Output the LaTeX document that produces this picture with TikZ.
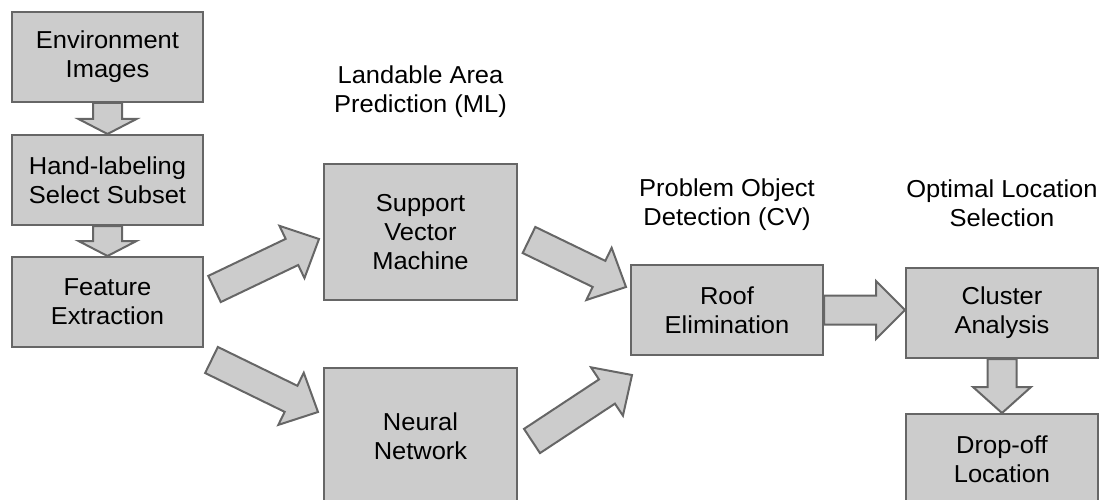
\documentclass[tikz,border=0pt]{standalone}
\usepackage{fontspec}
\setmainfont[FakeStretch=1.04]{Liberation Sans}
\usepackage{tikz}
\usepackage{xcolor}
\usetikzlibrary{calc}

\definecolor{boxgray}{HTML}{CCCCCC}
\definecolor{linegray}{HTML}{666666}
\newcommand{\labelfont}{\fontsize{24.5}{28.7}\selectfont}

\tikzset{
    stagebox/.style={draw=linegray, fill=boxgray, line width=2pt, align=center,
        font=\labelfont, inner sep=0pt},
    heading/.style={align=center, font=\labelfont, inner sep=0pt},
    fatarrow/.style={draw=linegray, fill=boxgray, line width=2pt, line join=miter}
}

% block arrow from #2 to #3, #1 = length of the head
\newcommand{\fatarrow}[3][30]{%
    \draw[fatarrow] ($(#2)!14.5pt!90:(#3)$)
        -- ($($(#3)!#1pt!(#2)$)!14.5pt!90:(#3)$)
        -- ($($(#3)!#1pt!(#2)$)!29pt!90:(#3)$)
        -- (#3)
        -- ($($(#3)!#1pt!(#2)$)!29pt!-90:(#3)$)
        -- ($($(#3)!#1pt!(#2)$)!14.5pt!-90:(#3)$)
        -- ($(#2)!14.5pt!-90:(#3)$) -- cycle;}

\begin{document}
\begin{tikzpicture}[x=1pt, y=-1pt]
\useasboundingbox (0,0) rectangle (1099,500);
\clip (0,0) rectangle (1099,500);

% Preprocessing column
\node[stagebox, minimum width=191, minimum height=90] (env) at (107.5,57) {Environment\\Images};
\node[stagebox, minimum width=191, minimum height=90] (hand) at (107.5,180) {Hand-labeling\\Select Subset};
\node[stagebox, minimum width=191, minimum height=90] (feat) at (107.5,302) {Feature\\Extraction};

% Classifiers
\node[heading] (mlhead) at (420.5,92) {Landable Area\\Prediction (ML)};
\node[stagebox, minimum width=193, minimum height=136] (svm) at (420.5,232) {Support\\Vector\\Machine};
\node[stagebox, minimum width=193, minimum height=136] (nn) at (420.5,436) {Neural\\Network};

% Object detection
\node[heading] (cvhead) at (727,205) {Problem Object\\Detection (CV)};
\node[stagebox, minimum width=192, minimum height=90] (roof) at (727,310) {Roof\\Elimination};

% Location selection
\node[heading] (selhead) at (1002,203) {Optimal Location\\Selection};
\node[stagebox, minimum width=192, minimum height=90] (clus) at (1002,313) {Cluster\\Analysis};
\node[stagebox, minimum width=192, minimum height=90] (drop) at (1002,459) {Drop-off\\Location};

% Arrow end points
\coordinate (fs0) at (214.5,289);
\coordinate (fs1) at (319,239);
\coordinate (fn0) at (211.5,360);
\coordinate (fn1) at (318,412);
\coordinate (sr0) at (529,240);
\coordinate (sr1) at (626,287);
\coordinate (nr0) at (532,441);
\coordinate (nr1) at (632,375);
\coordinate (rc) at (roof.east -| clus.west);

\fatarrow[15]{env.south}{hand.north}
\fatarrow[15]{hand.south}{feat.north}
\fatarrow{fs0}{fs1}
\fatarrow{fn0}{fn1}
\fatarrow{sr0}{sr1}
\fatarrow{nr0}{nr1}
\fatarrow[29]{roof.east}{rc}
\fatarrow[26]{clus.south}{drop.north}
\end{tikzpicture}
\end{document}
